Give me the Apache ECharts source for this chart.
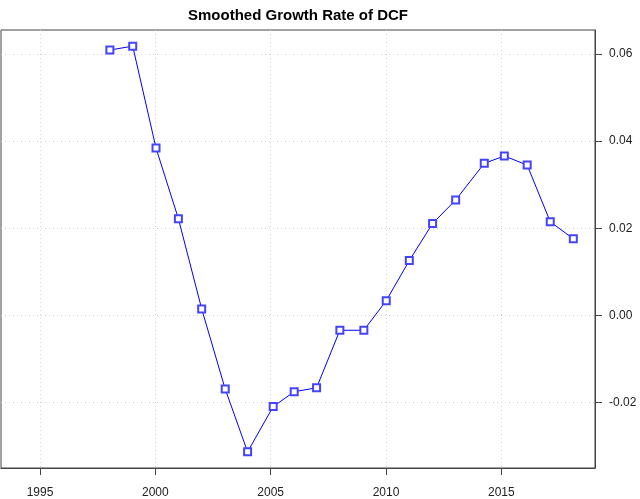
<!DOCTYPE html>
<html>
<head>
<meta charset="utf-8">
<script src="https://cdn.jsdelivr.net/npm/echarts@6/dist/echarts.min.js"></script>
<style>html,body{margin:0;padding:0;background:#fff}#c{width:640px;height:499px}</style>
</head>
<body>
<div id="c"></div>
<script>
const titleText = 'Smoothed Growth Rate of DCF';
const years = [1998.03, 1999.02, 2000.03, 2001.0, 2002.01, 2003.03, 2004.0, 2005.11, 2006.02, 2006.99, 2008.0, 2009.04, 2010.01, 2011.01, 2012.02, 2013.02, 2014.26, 2015.13, 2016.12, 2017.12, 2018.12];
const growth = [0.0609, 0.0618, 0.0384, 0.0222, 0.0015, -0.0169, -0.0313, -0.0209, -0.0175, -0.0166, -0.0034, -0.0034, 0.0034, 0.0126, 0.0211, 0.0265, 0.0349, 0.0366, 0.0345, 0.0215, 0.0176];
const xTicks = [1995, 2000, 2005, 2010, 2015];
const yTicks = [-0.02, 0.00, 0.02, 0.04, 0.06];

const chart = echarts.init(document.getElementById('c'), null, {renderer: 'canvas'});
const font = '"Liberation Sans", Arial, sans-serif';
chart.setOption({
  animation: false,
  backgroundColor: '#fff',
  graphic: [{
    type: 'text',
    style: {text: titleText, x: 298, y: 16, textAlign: 'center', textVerticalAlign: 'middle',
            font: 'bold 15px ' + font, fill: '#000'}
  }],
  grid: {left: 1, right: 45, top: 30, bottom: 31, show: true, borderColor: '#444', borderWidth: 1, containLabel: false},
  xAxis: {
    type: 'value', min: 1993.31, max: 2019.06,
    axisLine: {show: true, onZero: false, lineStyle: {color: '#444', width: 1}},
    axisTick: {show: true, length: 7, customValues: xTicks, lineStyle: {color: '#444'}},
    axisLabel: {customValues: xTicks, margin: 19, fontSize: 12, color: '#222', fontFamily: font,
                formatter: v => String(Math.round(v))},
    splitLine: {show: true, lineStyle: {color: '#d3d3d3', type: [1, 3], width: 1}}
  },
  yAxis: {
    type: 'value', position: 'right', min: -0.035, max: 0.0655,
    axisLine: {show: true, lineStyle: {color: '#444', width: 1}},
    axisTick: {show: true, length: 7, customValues: yTicks, lineStyle: {color: '#444'}},
    axisLabel: {customValues: yTicks, margin: 14, fontSize: 12, color: '#222', fontFamily: font,
                formatter: v => v.toFixed(2)},
    splitLine: {show: true, lineStyle: {color: '#d3d3d3', type: [1, 3], width: 1}}
  },
  series: [{
    type: 'line',
    data: years.map((y, i) => [y, growth[i]]),
    symbol: 'emptyRect', symbolSize: 7, showAllSymbol: true,
    lineStyle: {color: '#0000ff', width: 1},
    itemStyle: {color: '#4444ff', borderColor: '#4444ff', borderWidth: 1}
  }]
});
</script>
</body>
</html>
